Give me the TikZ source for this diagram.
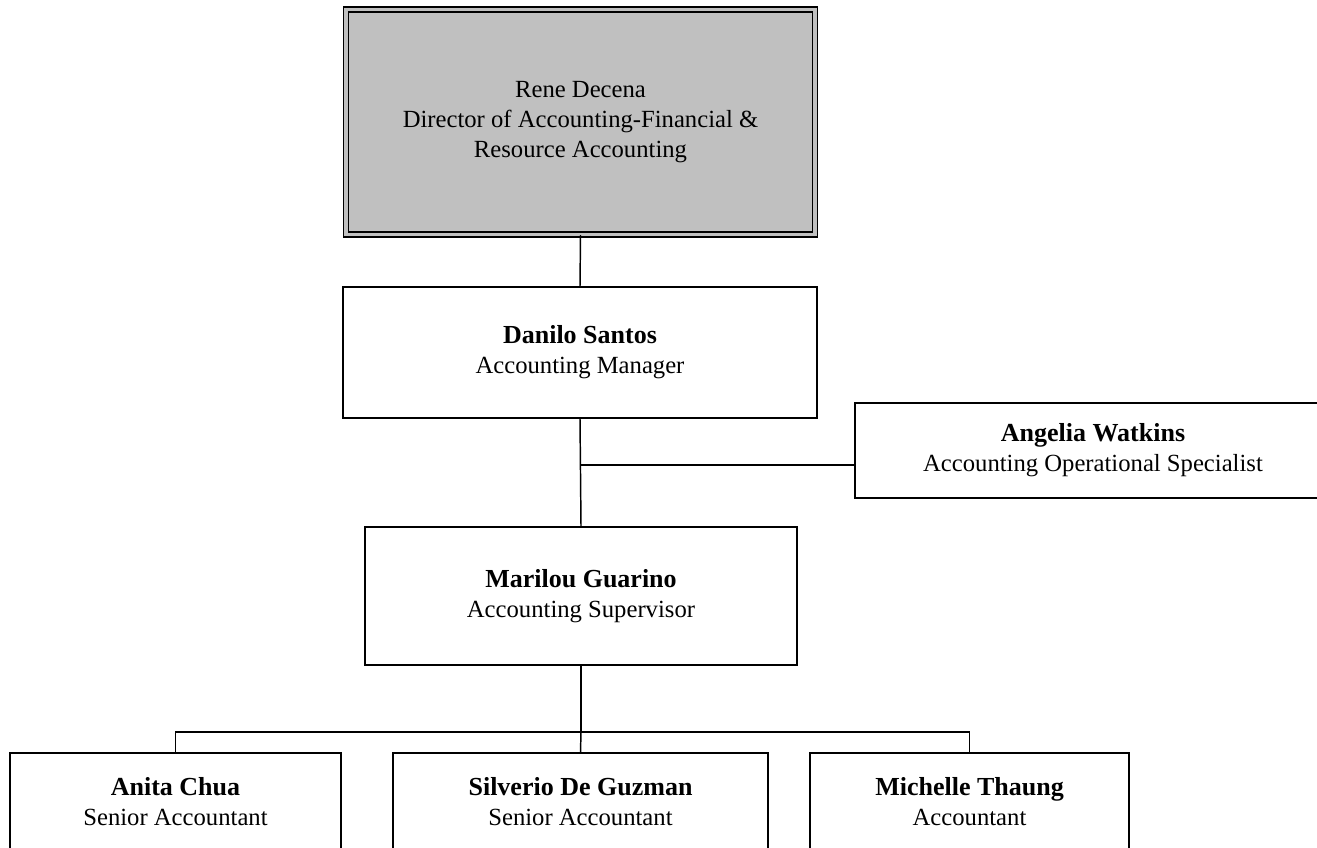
\documentclass[tikz,border=0pt]{standalone}
\usepackage{fontspec}
\setmainfont{Liberation Serif}
\definecolor{boxgray}{RGB}{192,192,192}
\tikzset{
  orgbox/.style 2 args={draw, line width=1.1pt, align=center, inner sep=0pt,
    minimum width=#1*0.75pt, minimum height=#2*0.75pt,
    font=\fontsize{18.5}{22.5}\selectfont},
  headbox/.style={fill=boxgray, double=boxgray, double distance=2.6pt},
  link/.style={line width=1.1pt}
}
\newcommand{\who}[2]{{\fontsize{19.5}{22.5}\selectfont\textbf{#1}}\\#2}

\begin{document}
\begin{tikzpicture}[x=0.75pt,y=-0.75pt]
	\useasboundingbox (0,0) rectangle (1317,847);
	\clip (0,0) rectangle (1317,847);
	% top of the chart
	\node [orgbox={469}{225}, headbox] (rene) at (580.5,122)
		{Rene Decena\\Director of Accounting-Financial \&\\Resource Accounting};
	\node [orgbox={474}{131}] (danilo) at (580,352.5) {\who{Danilo Santos}{Accounting Manager}};
	\node [orgbox={476}{95}] (angelia) at (1093,450.5) {\who{Angelia Watkins}{Accounting Operational Specialist}};
	\node [orgbox={432}{138}] (marilou) at (581,596) {\who{Marilou Guarino}{Accounting Supervisor}};
	% staff row
	\node [orgbox={331}{98}] (anita) at (175.5,802) {\who{Anita Chua}{Senior Accountant}};
	\node [orgbox={375}{98}] (silverio) at (580.5,802) {\who{Silverio De Guzman}{Senior Accountant}};
	\node [orgbox={319}{98}] (michelle) at (969.5,802) {\who{Michelle Thaung}{Accountant}};
	% connectors
	\coordinate (side) at (581,465);
	\coordinate (rail) at (581,732);
	\draw [link] (rene.south) -- (danilo.north);
	\draw [link] (danilo.south) -- (marilou.north);
	\draw [link] (side) -- (side -| angelia.west);
	\draw [link, line width=1.5pt] (marilou.south) -- (rail);
	\draw [link] (anita.north) |- (rail) -| (michelle.north);
	\draw [link] (rail) -- (silverio.north);
\end{tikzpicture}
\end{document}
